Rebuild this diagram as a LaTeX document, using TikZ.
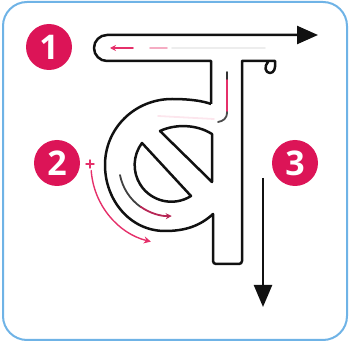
\documentclass[tikz,border=0pt]{standalone}
\usepackage{xcolor}
\usepackage{fontspec}
\usepackage{tikz}
\usetikzlibrary{arrows.meta}
\newfontfamily\numfont{Open Sans}
\definecolor{cpink}{HTML}{DC1457}
\definecolor{cguide}{HTML}{E5306A}
\definecolor{cframe}{HTML}{6FB3E6}
\definecolor{cink}{HTML}{111111}

\begin{document}
\begin{tikzpicture}[x=1pt,y=-1pt,
  outl/.style={draw=cink,line width=2.5pt,line join=round},
  guide/.style={draw=cguide,line width=1.8pt,line cap=round},
  numc/.style={circle,fill=cpink,text=white,minimum size=46pt,inner sep=0pt,
    font=\numfont\bfseries\fontsize{34}{34}\selectfont}]
  \useasboundingbox (0,0) rectangle (349,342);
  \draw[cframe,line width=2pt,rounded corners=24pt] (3,2) rectangle (347,340);
  \node[numc] (n1) at (49,47) {1};
  \node[numc] (n2) at (57,163) {2};
  \node[numc] (n3) at (295,163) {3};
  \draw[outl,-{Triangle[length=21pt,width=18pt]}] (211,104) -- (211,61) -- (107,61)
    arc[start angle=90,end angle=270,radius=13] -- (318,35);
  \draw[outl] (268,62) .. controls (264,66) and (265,73) .. (270,73)
    .. controls (274,73) and (276,68) .. (275,61) -- (242,61)
    [rounded corners=3pt] -- (242,264) -- (213,264) [sharp corners] -- (213,214)
    .. controls (200,226) and (185,231) .. (165,231)
    .. controls (130,231) and (105,200) .. (105,165)
    .. controls (105,128) and (135,99) .. (172,99)
    .. controls (190,99) and (203,101) .. (211,104);
  \draw[outl] (160,131) .. controls (175,124) and (196,124) .. (212,134) -- (212,182) -- cycle;
  \draw[outl] (142,143) -- (191,196) arc[start angle=57.6,end angle=216.9,radius=36.7] -- cycle;
  \draw[guide,-{Stealth[length=6pt,width=6pt]}] (133,48) -- (110,48);
  \draw[guide,draw=cguide!40] (150,48) -- (167,48);
  \draw[guide,draw=black!7] (172,48) -- (265,48);
  \draw[guide,draw=black!80] (227,72) -- (227,80);
  \draw[guide] (227,80) -- (227,112);
  \draw[guide,draw=black!70] (227,112) .. controls (227,119) and (223,121) .. (218,122);
  \draw[guide,draw=cguide!12] (214,119) -- (158,116);
  \draw[guide,draw=black!75] (120,175) arc[start angle=169,end angle=125,radius=51];
  \draw[guide,draw=cguide!80!black,-{Stealth[length=6pt,width=6pt]}] (140.7,206.8) arc[start angle=125,end angle=88,radius=51];
  \draw[guide,line width=1.4pt] (86,164) -- (94,164) (90,160) -- (90,168);
  \draw[guide,line width=1.4pt,-{Stealth[length=7pt,width=7pt]}] (91.2,170.5) arc[start angle=176,end angle=104,radius=79];
  \draw[outl,-{Triangle[length=22pt,width=18pt]}] (263,178) -- (263,307);
\end{tikzpicture}
\end{document}
